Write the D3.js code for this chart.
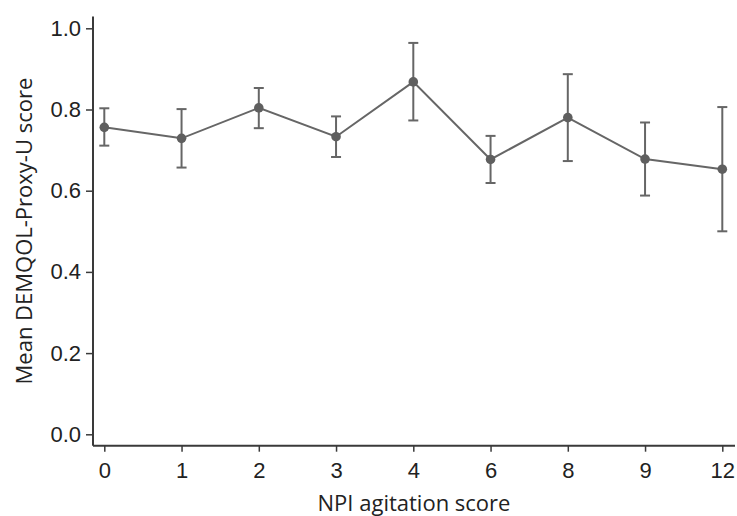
<!DOCTYPE html>
<html>
<head>
<meta charset="utf-8">
<script src="https://cdn.jsdelivr.net/npm/d3@7"></script>
<style>
  body { margin: 0; background: #fff; }
  svg { display: block; font-family: "Open Sans", "Noto Sans", sans-serif; }
</style>
</head>
<body>
<div id="grafico"></div>
<script>
const categorias = ["0", "1", "2", "3", "4", "6", "8", "9", "12"];
const medias = [0.756, 0.729, 0.804, 0.733, 0.868, 0.677, 0.780, 0.678, 0.653];
const limiteSup = [0.803, 0.801, 0.853, 0.783, 0.964, 0.735, 0.887, 0.768, 0.806];
const limiteInf = [0.711, 0.657, 0.754, 0.683, 0.773, 0.619, 0.673, 0.588, 0.500];
const ticksY = [0, 0.2, 0.4, 0.6, 0.8, 1.0];

const datos = categorias.map((c, i) => ({
    cat: c, media: medias[i], sup: limiteSup[i], inf: limiteInf[i]
}));

const ancho = 737, alto = 516;
const colorLinea = "#666666";
const colorEje = "#3a3a3a";
const tamTexto = "22px";

const svg = d3.select("#grafico")
    .append("svg")
    .attr("width", ancho)
    .attr("height", alto);

// ejes: el x es de categorias igualmente espaciadas
const x = d3.scalePoint()
    .domain(categorias)
    .range([104.3, 722.3]);

const y = d3.scaleLinear()
    .domain([0, 1])
    .range([434.3, 28.3]);

const ejeIzq = 93, ejeAbajo = 445.7;

const xAxis = svg.append("g")
    .attr("transform", `translate(0, ${ejeAbajo})`)
    .call(d3.axisBottom(x).tickSize(6).tickPadding(11).tickSizeOuter(0));
xAxis.select(".domain").remove();
xAxis.selectAll(".tick line").attr("stroke", colorEje).attr("stroke-width", 1.5);
xAxis.selectAll("text").attr("font-size", tamTexto).attr("fill", "#222");

const yAxis = svg.append("g")
    .attr("transform", `translate(${ejeIzq}, 0)`)
    .call(d3.axisLeft(y).tickValues(ticksY).tickFormat(d3.format(".1f")).tickSize(7).tickPadding(5));
yAxis.select(".domain").remove();
yAxis.selectAll(".tick line").attr("stroke", colorEje).attr("stroke-width", 1.5);
yAxis.selectAll("text").attr("font-size", tamTexto).attr("fill", "#222");

// lineas de los ejes
svg.append("line")
    .attr("x1", ejeIzq).attr("x2", ejeIzq)
    .attr("y1", 16.5).attr("y2", ejeAbajo)
    .attr("stroke", colorEje).attr("stroke-width", 2);
svg.append("line")
    .attr("x1", ejeIzq).attr("x2", 735)
    .attr("y1", ejeAbajo).attr("y2", ejeAbajo)
    .attr("stroke", colorEje).attr("stroke-width", 2);

// titulos
svg.append("text")
    .attr("x", (ejeIzq + 735) / 2)
    .attr("y", 511)
    .attr("text-anchor", "middle")
    .attr("font-size", tamTexto)
    .attr("fill", "#222")
    .text("NPI agitation score");

svg.append("text")
    .attr("transform", `translate(32, ${(16.5 + ejeAbajo) / 2}) rotate(-90)`)
    .attr("text-anchor", "middle")
    .attr("font-size", tamTexto)
    .attr("fill", "#222")
    .text("Mean DEMQOL-Proxy-U score");

// barras de error
const barras = svg.append("g").attr("stroke", colorLinea).attr("stroke-width", 2);
barras.selectAll(".vert")
    .data(datos).enter().append("line")
    .attr("x1", d => x(d.cat)).attr("x2", d => x(d.cat))
    .attr("y1", d => y(d.sup)).attr("y2", d => y(d.inf));
["sup", "inf"].forEach(k => {
    barras.selectAll(".cap-" + k)
        .data(datos).enter().append("line")
        .attr("x1", d => x(d.cat) - 5).attr("x2", d => x(d.cat) + 5)
        .attr("y1", d => y(d[k])).attr("y2", d => y(d[k]));
});

// linea de medias
svg.append("path")
    .datum(datos)
    .attr("fill", "none")
    .attr("stroke", colorLinea)
    .attr("stroke-width", 2)
    .attr("d", d3.line().x(d => x(d.cat)).y(d => y(d.media)));

svg.selectAll(".punto")
    .data(datos).enter().append("circle")
    .attr("cx", d => x(d.cat))
    .attr("cy", d => y(d.media))
    .attr("r", 4.8)
    .attr("fill", "#5f5f5f");
</script>
</body>
</html>
